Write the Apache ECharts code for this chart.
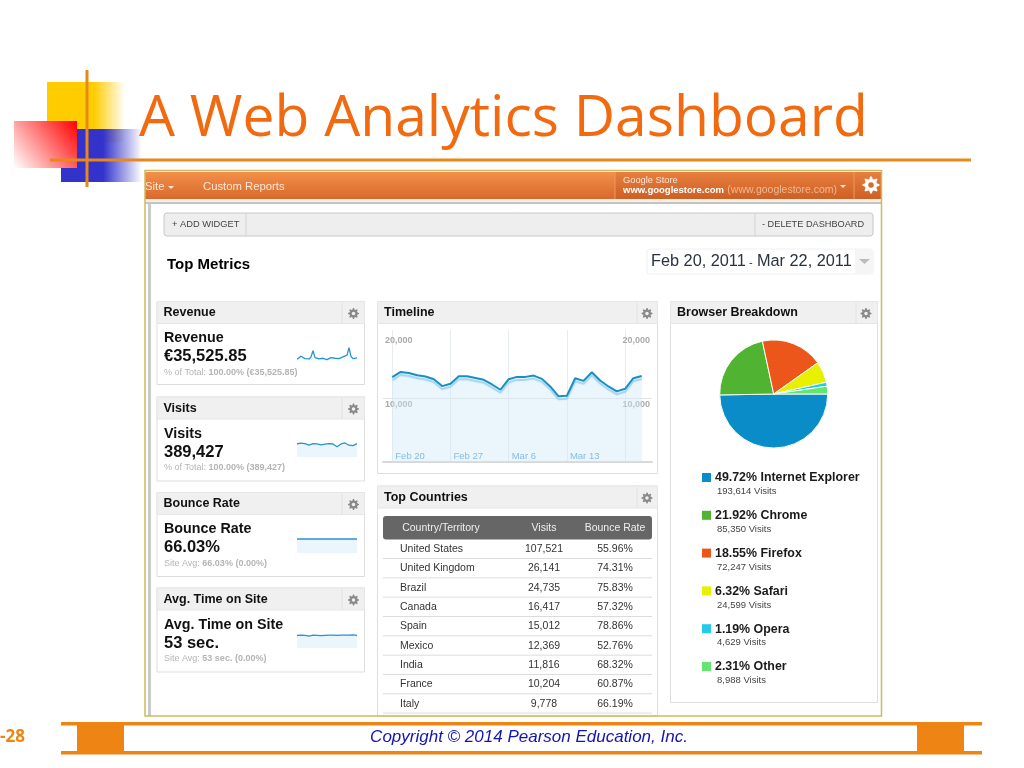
<!DOCTYPE html>
<html>
<head>
<meta charset="utf-8">
<title>A Web Analytics Dashboard</title>
<script src="https://cdn.jsdelivr.net/npm/echarts@6/dist/echarts.min.js"></script>
<style>
html,body{margin:0;padding:0;background:#fff;}
#main{width:1024px;height:768px;}
</style>
</head>
<body>
<div id="main"></div>
<script>
// values
var days = ['Feb 20','Feb 21','Feb 22','Feb 23','Feb 24','Feb 25','Feb 26','Feb 27','Feb 28','Mar 1','Mar 2','Mar 3','Mar 4','Mar 5','Mar 6','Mar 7','Mar 8','Mar 9','Mar 10','Mar 11','Mar 12','Mar 13','Mar 14','Mar 15','Mar 16','Mar 17','Mar 18','Mar 19','Mar 20','Mar 21','Mar 22'];
var visitsDaily = [13250,14070,13920,13560,13350,12940,11860,12220,13400,13400,13140,12840,12110,11290,12940,13300,13300,13500,12990,11800,10260,10360,13090,12680,14020,12730,11800,11030,11440,13090,13450];
var revenueDaily = [800,1000,1700,1300,1000,1300,900,1500,3300,1300,1000,900,1000,1100,800,700,1000,1300,800,1100,700,1000,1500,1500,1100,2000,4200,1600,1000,1100,1200];
var bounceDaily = [66.2,66,66.1,66,66,65.9,66,66,66.1,66,66,66,66,66.1,66,66,66,66.1,66,66,66,66,66.1,66,66,66,66,66,66.1,66,66];
var timeDaily = [53,53,54,54,53,52,50,52,54,54,53,53,52,52,53,53,54,54,54,53,53,54,54,55,54,54,54,54,55,55,53];

var widgetTitles = ['Revenue','Visits','Bounce Rate','Avg. Time on Site'];
var widgetValues = ['€35,525.85','389,427','66.03%','53 sec.'];
var widgetNotes = [['% of Total: ','100.00% (€35,525.85)'],['% of Total: ','100.00% (389,427)'],['Site Avg: ','66.03% (0.00%)'],['Site Avg: ','53 sec. (0.00%)']];

var countries = ['United States','United Kingdom','Brazil','Canada','Spain','Mexico','India','France','Italy'];
var countryVisits = ['107,521','26,141','24,735','16,417','15,012','12,369','11,816','10,204','9,778'];
var countryBounce = ['55.96%','74.31%','75.83%','57.32%','78.86%','52.76%','68.32%','60.87%','66.19%'];

var browsers = ['Internet Explorer','Chrome','Firefox','Safari','Opera','Other'];
var browserVisits = [193614,85350,72247,24599,4629,8988];
var browserPct = ['49.72%','21.92%','18.55%','6.32%','1.19%','2.31%'];
var browserColors = ['#0a8cc8','#50b432','#ed561b','#e8f000','#24cbe5','#64e572'];

var SANS = '"Liberation Sans", Arial, sans-serif';
var els = [];

function rect(x,y,w,h,fill,stroke,r){
    els.push({type:'rect',shape:{x:x,y:y,width:w,height:h,r:r||0},style:{fill:fill,stroke:stroke||null,lineWidth:stroke?1:0},silent:true});
}
function line(x1,y1,x2,y2,color,w){
    els.push({type:'line',shape:{x1:x1,y1:y1,x2:x2,y2:y2},style:{stroke:color,lineWidth:w||1},silent:true});
}
function txt(x,y,s,size,color,weight,align,family,italic){
    els.push({type:'text',x:x,y:y,silent:true,style:{text:s,fill:color,align:align||'left',verticalAlign:'middle',
        font:(italic?'italic ':'')+(weight||'normal')+' '+size+'px '+(family||SANS)}});
}
function lin(x,y,x2,y2,c1,c2,mid){
    var stops = [{offset:0,color:c1}];
    if(mid){ stops.push({offset:mid,color:c1}); }
    stops.push({offset:1,color:c2});
    return {type:'linear',x:x,y:y,x2:x2,y2:y2,colorStops:stops};
}
function gear(cx,cy,r,color,hole){
    var pts = [];
    for(var i=0;i<32;i++){
        var k = i%4;
        var rr = (k==0||k==1) ? r : r*0.72;
        var a = (i-0.5)*Math.PI/16;
        pts.push([cx+rr*Math.cos(a),cy+rr*Math.sin(a)]);
    }
    els.push({type:'polygon',shape:{points:pts},style:{fill:color},silent:true});
    els.push({type:'circle',shape:{cx:cx,cy:cy,r:r*0.32},style:{fill:hole},silent:true});
}
function panel(x,y,w,headH,h,title,divX,gearX){
    rect(x,y,w,h,'#fff','#dedede');
    rect(x,y,w,headH,'#f0f0f0','#e6e6e6');
    line(divX,y+1,divX,y+headH,'#e2e2e2',1);
    txt(x+6.5,y+11.5,title,12.5,'#111','bold');
    gear(gearX,y+12,5.5,'#8a8a8a','#f0f0f0');
}

// slide decoration
rect(47,82,78,60,lin(0,0,1,0,'#ffcc00','rgba(255,204,0,0)',0.6));
rect(61,129,81,53,lin(0,0,1,0,'#3333cc','rgba(51,51,204,0)',0.52));
rect(14,121,63,47,lin(1,0,0,1,'#ff0000','#ffffff'));
line(87,70,87,187,'#e8871a',3);
line(50,160,971,160,'#e8871a',3);
txt(139,120,'A Web Analytics Dashboard',57,'#f26a10','normal','left','"Open Sans", sans-serif');

// dashboard frame
rect(145,170,737,546,'#fff');
rect(145,172,736,27,lin(0,0,0,1,'#f2904a','#d9692b'));
rect(615,172,266,27,lin(0,0,0,1,'#e67f3f','#cf5f24'));
line(615,172,615,199,'#e89a68',1);
line(854,172,854,199,'#e89a68',1);
rect(145,199,737,3,'#f4f2e8');
rect(145,202,737,2,'#c4c4c4');
rect(148,204,3,512,'#c8ccc8');
txt(145,187,'Site',11.3,'#fbe6d6');
els.push({type:'polygon',shape:{points:[[168,186],[174,186],[171,189]]},style:{fill:'#fbe6d6'},silent:true});
txt(203,187,'Custom Reports',11.3,'#fbe6d6');
txt(623,180,'Google Store',9.3,'#fbe6d6');
els.push({type:'text',x:623,y:190,silent:true,style:{text:'{a|www.googlestore.com} {b|(www.googlestore.com)}',verticalAlign:'middle',
    rich:{a:{font:'bold 9.5px '+SANS,fill:'#fff'},b:{font:'10.5px '+SANS,fill:'#eeb994'}}}});
els.push({type:'polygon',shape:{points:[[840,185],[846,185],[843,188]]},style:{fill:'#fbe6d6'},silent:true});
gear(871,185,8.5,'#fff','#d9692b');

// toolbar
rect(164,213,709,23,'#eeeeee','#c8c8c8',3);
line(246,213,246,236,'#d2d2d2',1);
line(755,213,755,236,'#d2d2d2',1);
txt(172,224.5,'+ ADD WIDGET',9.3,'#444');
txt(762,224.5,'- DELETE DASHBOARD',9.2,'#444');

txt(167,265,'Top Metrics',15,'#000','bold');
rect(647,249,226,25,'#fff','#f0f0f0',3);
rect(855,249,18,25,'#f5f5f5');
txt(651,262,'Feb 20, 2011',16.3,'#2a3340');
txt(749,263,'-',11,'#2a3340');
txt(757,262,'Mar 22, 2011',16.3,'#2a3340');
els.push({type:'polygon',shape:{points:[[859,259],[870,259],[864.5,264]]},style:{fill:'#bbb'},silent:true});

// metric widgets
var widgetTops = [301.5,397,492.5,588];
for(var w=0;w<widgetTitles.length;w++){
    var t = widgetTops[w];
    panel(157,t,207.5,22,w==0?83:84,widgetTitles[w],342,353.5);
    txt(164,t+37,widgetTitles[w],14.3,'#111','bold');
    txt(164,t+55,widgetValues[w],16.5,'#111','bold');
    els.push({type:'text',x:164,y:t+71,silent:true,style:{text:'{a|'+widgetNotes[w][0]+'}{b|'+widgetNotes[w][1]+'}',verticalAlign:'middle',
        rich:{a:{font:'9px '+SANS,fill:'#b4b4b4'},b:{font:'bold 9px '+SANS,fill:'#b4b4b4'}}}});
}

// timeline panel, top countries, browser breakdown
panel(377.5,301.5,280,22,172,'Timeline',637,647);
panel(377.5,486,280,22,230,'Top Countries',637,647);
panel(670.5,301.5,207,22,401,'Browser Breakdown',856,866);

rect(383,516,269,23.5,'#666666',null,3);
txt(441,528,'Country/Territory',10.5,'#eee','normal','center');
txt(544,528,'Visits',10.5,'#eee','normal','center');
txt(615,528,'Bounce Rate',10.5,'#eee','normal','center');
for(var c=0;c<countries.length;c++){
    var ry = 549+c*19.33;
    txt(400,ry,countries[c],10.5,'#333');
    txt(544,ry,countryVisits[c],10.5,'#333','normal','center');
    txt(615,ry,countryBounce[c],10.5,'#333','normal','center');
    line(383,ry+9.5,652,ry+9.5,'#dcdcdc',1);
}

// browser legend
for(var b=0;b<browsers.length;b++){
    var by = 478+b*37.8;
    rect(702,by-5,9,9,browserColors[b]);
    txt(715,by,browserPct[b]+' '+browsers[b],12.4,'#1a1a1a','bold');
    txt(717,by+13.5,browserVisits[b].toLocaleString('en-US')+' Visits',9.5,'#444');
}

// dashboard border and footer
els.push({type:'rect',shape:{x:145,y:170.5,width:736.5,height:545.5},style:{fill:null,stroke:'#d4b85a',lineWidth:1.5},silent:true});
rect(61,722,921,3.5,'#ee8413');
rect(61,751,921,3.5,'#ee8413');
rect(77,725,47,26,'#ee8413');
rect(917,725,47,26,'#ee8413');
txt(529,737,'Copyright © 2014 Pearson Education, Inc.',17,'#1414b4','normal','center',SANS,true);
txt(0,737,'-28',17,'#ee8413','bold','left','"Open Sans", sans-serif');

// small chart in each metric widget: grid index, data, axis max
function sparkGrid(top,height){
    return {left:297,width:60,top:top,height:height};
}
var sparkSets = [
    {top:345,h:17,max:5000,data:revenueDaily,fill:'rgba(205,232,248,0.25)'},
    {top:440,h:17,max:17000,data:visitsDaily,fill:'rgba(205,232,248,0.6)'},
    {top:535,h:18,max:85,data:bounceDaily,fill:'rgba(205,232,248,0.6)'},
    {top:631,h:17,max:71,data:timeDaily,fill:'rgba(205,232,248,0.6)'}
];

var grids = [
    {left:383,right:372,top:334,height:128},
    {left:392.3,width:249.4,top:330,height:132}
];
var xAxes = [
    {gridIndex:0,type:'value',min:0,max:1,axisLabel:{show:false},axisTick:{show:false},splitLine:{show:false},
        axisLine:{show:true,lineStyle:{color:'#d8d8d8',width:2}}},
    {gridIndex:1,type:'category',data:days,boundaryGap:false,axisLine:{show:false},axisTick:{show:false},
        splitLine:{show:true,interval:function(i){return i%7==0;},lineStyle:{color:'#e6ecef',width:1}},
        axisLabel:{inside:true,interval:function(i){return i%7==0 && i<28;},align:'left',verticalAlign:'bottom',margin:1,
            padding:[0,0,0,3],fontFamily:SANS,fontSize:9.5,color:'#4f9fd8'}}
];
var yLabel = {inside:true,verticalAlign:'top',margin:2,padding:[2,0,0,0],fontFamily:SANS,fontSize:9,fontWeight:'bold',color:'#aaaaaa',
    formatter:function(v){return v==0 ? '' : v.toLocaleString('en-US');}};
var yAxes = [
    {gridIndex:0,type:'value',min:0,max:20000,interval:10000,position:'left',axisLine:{show:false},axisTick:{show:false},axisLabel:yLabel,
        splitLine:{show:true,showMinLine:false,showMaxLine:false,lineStyle:{color:'#e4e4e4'}}},
    {gridIndex:0,type:'value',min:0,max:20000,interval:10000,position:'right',axisLine:{show:false},axisTick:{show:false},axisLabel:yLabel,splitLine:{show:false}},
    {gridIndex:1,type:'value',min:0,max:20625,show:false}
];
var series = [
    {type:'line',xAxisIndex:1,yAxisIndex:2,data:visitsDaily,symbol:'none',smooth:false,silent:true,
        lineStyle:{color:'#1b8ec4',width:2,shadowColor:'#9ed5ef',shadowBlur:1,shadowOffsetY:3},
        areaStyle:{color:'rgba(205,232,248,0.6)'}},
    {type:'pie',center:[773.7,394],radius:[0,54],startAngle:0,clockwise:true,silent:true,
        label:{show:false},labelLine:{show:false},
        itemStyle:{borderColor:'#f4fff4',borderWidth:1},
        color:browserColors,
        data:browsers.map(function(n,i){return {name:n,value:browserVisits[i]};})}
];
sparkSets.forEach(function(s){
    var g = grids.length;
    grids.push(sparkGrid(s.top,s.h));
    xAxes.push({gridIndex:g,type:'category',data:days,boundaryGap:false,show:false});
    yAxes.push({gridIndex:g,type:'value',min:0,max:s.max,show:false});
    series.push({type:'line',xAxisIndex:g,yAxisIndex:yAxes.length-1,data:s.data,symbol:'none',silent:true,
        lineStyle:{color:'#2a93cf',width:1.3},areaStyle:{color:s.fill}});
});

var chart = echarts.init(document.getElementById('main'));
chart.setOption({
    animation:false,
    grid:grids,
    xAxis:xAxes,
    yAxis:yAxes,
    series:series,
    graphic:{elements:els}
});
</script>
</body>
</html>
